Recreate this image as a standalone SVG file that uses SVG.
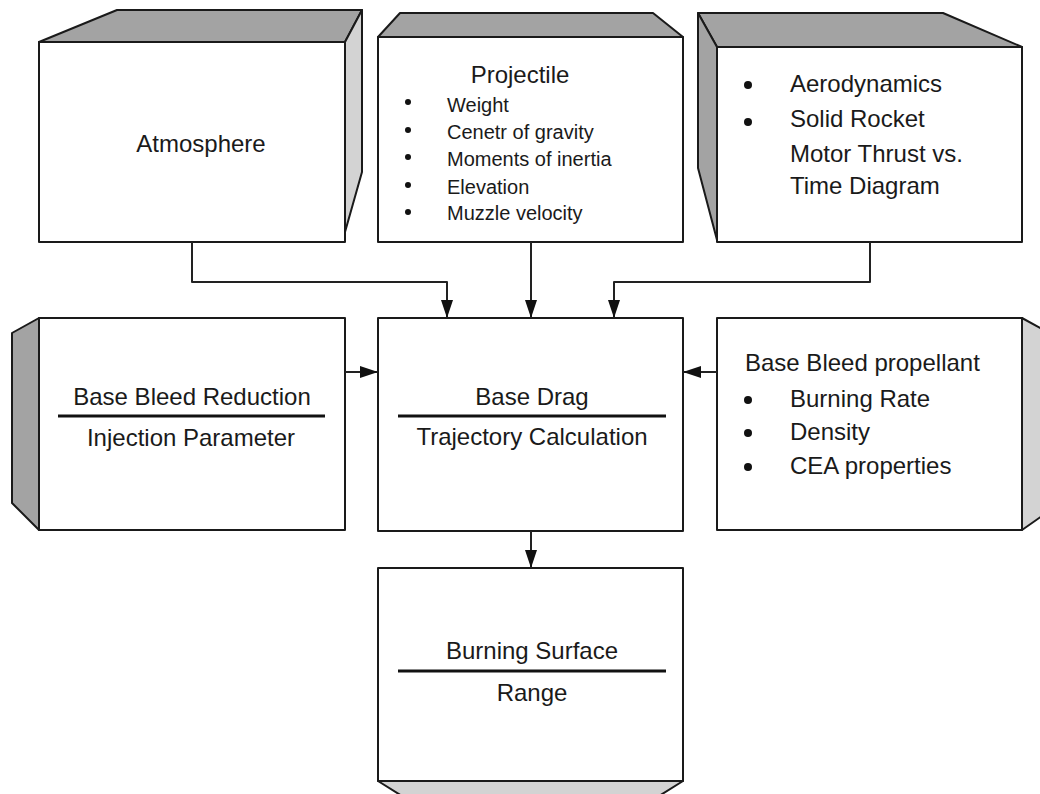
<svg xmlns="http://www.w3.org/2000/svg" width="1040" height="794" viewBox="0 0 1040 794">
<style>
.front{fill:#fff;stroke:#1a1a1a;stroke-width:2;stroke-linejoin:round}
.dark{fill:#a3a3a3;stroke:#1a1a1a;stroke-width:2;stroke-linejoin:round}
.light{fill:#d3d3d3;stroke:#1a1a1a;stroke-width:2;stroke-linejoin:round}
.t{font-family:"Liberation Sans",Arial,sans-serif;font-size:24px;fill:#1a1a1a}
.s{font-family:"Liberation Sans",Arial,sans-serif;font-size:20px;fill:#1a1a1a}
.c{text-anchor:middle}
.rule{stroke:#111;stroke-width:3}
.conn{fill:none;stroke:#222;stroke-width:2;stroke-linejoin:round}
.dot{fill:#111}
</style>
<defs>
<marker id="arr" viewBox="0 0 18 12" refX="18" refY="6" markerWidth="18" markerHeight="12" markerUnits="userSpaceOnUse" orient="auto">
<path d="M0,0 L18,6 L0,12 z" fill="#111"/>
</marker>
</defs>
<rect width="1040" height="794" fill="#fff"/>

<g id="atmosphere">
<polygon class="dark" points="39,42 117,10 362,10 345,42"/>
<polygon class="light" points="345,42 362,10 362,172 345,232"/>
<rect class="front" x="39" y="42" width="306" height="200"/>
<text class="t c" x="201" y="152">Atmosphere</text>
</g>

<g id="projectile">
<polygon class="dark" points="378,37 400,13 653,13 683,37"/>
<rect class="front" x="378" y="37" width="305" height="205"/>
<text class="t c" x="520" y="83">Projectile</text>
<circle class="dot" cx="408" cy="102" r="3"/>
<circle class="dot" cx="408" cy="130" r="3"/>
<circle class="dot" cx="408" cy="157" r="3"/>
<circle class="dot" cx="408" cy="185" r="3"/>
<circle class="dot" cx="408" cy="212" r="3"/>
<text class="s" x="447" y="112">Weight</text>
<text class="s" x="447" y="139">Cenetr of gravity</text>
<text class="s" x="447" y="166">Moments of inertia</text>
<text class="s" x="447" y="194">Elevation</text>
<text class="s" x="447" y="220">Muzzle velocity</text>
</g>

<g id="aerodynamics">
<polygon class="dark" points="717,47 698,13 943,13 1022,47"/>
<polygon class="dark" points="698,13 717,47 717,240 698,168"/>
<rect class="front" x="717" y="47" width="305" height="195"/>
<circle class="dot" cx="748" cy="85" r="4"/>
<circle class="dot" cx="748" cy="122" r="4"/>
<text class="t" x="790" y="92">Aerodynamics</text>
<text class="t" x="790" y="127">Solid Rocket</text>
<text class="t" x="790" y="162">Motor Thrust vs.</text>
<text class="t" x="790" y="194">Time Diagram</text>
</g>

<g id="injection">
<polygon class="dark" points="39,318 12,333 12,503 39,530"/>
<rect class="front" x="39" y="318" width="306" height="212"/>
<text class="t c" x="192" y="405">Base Bleed Reduction</text>
<line class="rule" x1="58" y1="416" x2="325" y2="416"/>
<text class="t c" x="191" y="446">Injection Parameter</text>
</g>

<g id="basedrag">
<rect class="front" x="378" y="318" width="305" height="213"/>
<text class="t c" x="532" y="405">Base Drag</text>
<line class="rule" x1="398" y1="416" x2="666" y2="416"/>
<text class="t c" x="532" y="445">Trajectory Calculation</text>
</g>

<g id="propellant">
<polygon class="light" points="1022,318 1042,329 1042,516 1022,530"/>
<rect class="front" x="717" y="318" width="305" height="212"/>
<text class="t" x="745" y="371">Base Bleed propellant</text>
<circle class="dot" cx="748" cy="400" r="4"/>
<circle class="dot" cx="748" cy="433" r="4"/>
<circle class="dot" cx="748" cy="467" r="4"/>
<text class="t" x="790" y="407">Burning Rate</text>
<text class="t" x="790" y="440">Density</text>
<text class="t" x="790" y="474">CEA properties</text>
</g>

<g id="range">
<polygon class="light" points="378,781 402,796 659,796 683,781"/>
<rect class="front" x="378" y="568" width="305" height="213"/>
<text class="t c" x="532" y="659">Burning Surface</text>
<line class="rule" x1="398" y1="671" x2="666" y2="671"/>
<text class="t c" x="532" y="701">Range</text>
</g>

<g id="connectors">
<polyline class="conn" points="192,242 192,282 447,282 447,318" marker-end="url(#arr)"/>
<line class="conn" x1="531" y1="242" x2="531" y2="318" marker-end="url(#arr)"/>
<polyline class="conn" points="870,242 870,282 614,282 614,318" marker-end="url(#arr)"/>
<line class="conn" x1="345" y1="372" x2="378" y2="372" marker-end="url(#arr)"/>
<line class="conn" x1="717" y1="372" x2="683" y2="372" marker-end="url(#arr)"/>
<line class="conn" x1="531" y1="531" x2="531" y2="568" marker-end="url(#arr)"/>
</g>
</svg>
